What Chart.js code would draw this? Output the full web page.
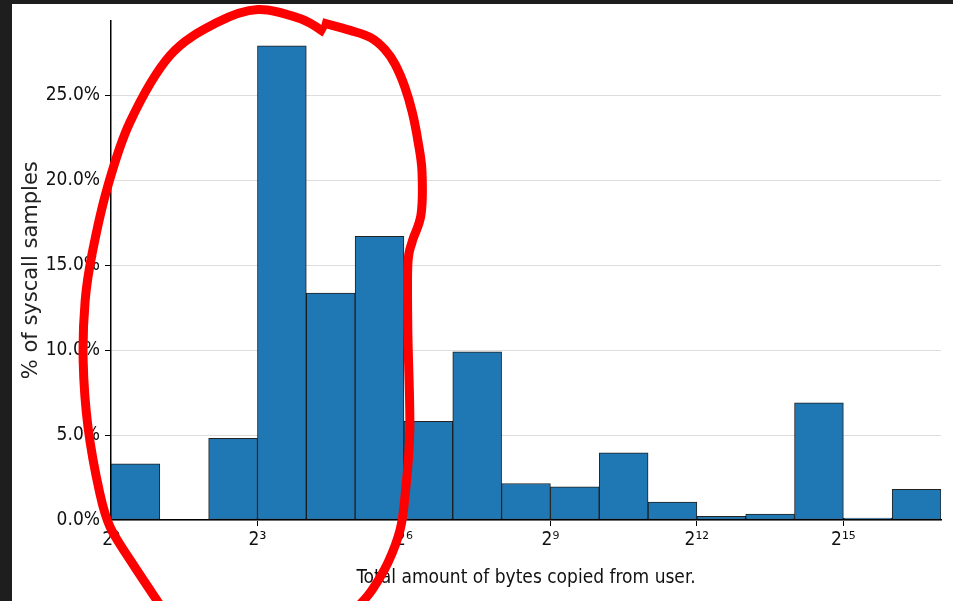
<!DOCTYPE html>
<html lang="en">
<head>
  <meta charset="UTF-8">
  <title>Bytes copied from user</title>
  <script src="https://cdn.jsdelivr.net/npm/chart.js"></script>
  <style>
    html, body { margin: 0; padding: 0; background: #1e1e1e; overflow: hidden; }
    .chart-box { position: absolute; left: 12px; top: 4px; width: 941px; height: 597px; background: #fff; }
  </style>
</head>
<body>

  <div class="chart-box">
    <canvas id="histChart"></canvas>
  </div>

  <script>
    // histogram bins, one power of two wide (log2 of the left edge)
    const binStarts = [0, 1, 2, 3, 4, 5, 6, 7, 8, 9, 10, 11, 12, 13, 14, 15, 16];
    const samplePct = [3.3, 0, 4.8, 27.9, 13.35, 16.7, 5.8, 9.9, 2.15, 1.95, 3.95, 1.05, 0.22, 0.35, 6.9, 0.12, 1.8];

    // tick labels
    const xTickExps = [0, 3, 6, 9, 12, 15];
    const yTickPct = [0, 5, 10, 15, 20, 25];

    // red hand drawn loop, in (log2 bytes, %) units
    const loopLeft = [
      [1.00, -4.98], [0.39, -2.34], [-0.02, -0.41], [-0.23, 1.58], [-0.47, 5.44],
      [-0.57, 9.37], [-0.53, 12.88], [-0.39, 15.63], [-0.08, 19.50], [0.39, 23.42],
      [1.21, 27.34], [2.17, 29.27], [3.01, 30.04], [3.87, 29.51], [4.38, 28.69]
    ];
    const loopRight = [
      [4.32, 29.27], [4.90, 28.81], [5.31, 28.40], [5.61, 27.69], [5.82, 26.81], [6.02, 25.47],
      [6.17, 24.00], [6.29, 22.25], [6.37, 20.49], [6.35, 17.97], [6.17, 16.39], [6.08, 15.05],
      [6.08, 11.12], [6.12, 5.27], [6.02, 1.35], [5.92, -0.59], [5.67, -2.52], [5.35, -4.10], [5.10, -4.98]
    ];

    const SUP = '⁰¹²³⁴⁵⁶⁷⁸⁹';
    function pow2Label(e) {
      return '2' + String(e).split('').map(d => SUP[+d]).join('');
    }

    // smooth stroke through the points (catmull-rom)
    function strokeSmooth(ctx, pts) {
      ctx.beginPath();
      ctx.moveTo(pts[0][0], pts[0][1]);
      for (let i = 0; i < pts.length - 1; i++) {
        const p0 = pts[Math.max(i - 1, 0)], p1 = pts[i], p2 = pts[i + 1], p3 = pts[Math.min(i + 2, pts.length - 1)];
        ctx.bezierCurveTo(
          p1[0] + (p2[0] - p0[0]) / 6, p1[1] + (p2[1] - p0[1]) / 6,
          p2[0] - (p3[0] - p1[0]) / 6, p2[1] - (p3[1] - p1[1]) / 6,
          p2[0], p2[1]
        );
      }
      ctx.stroke();
    }

    const scribble = {
      id: 'scribble',
      afterDraw(chart) {
        const { ctx, scales: { x, y } } = chart;
        ctx.save();
        ctx.strokeStyle = '#ff0000';
        ctx.lineWidth = 9;
        ctx.lineJoin = 'round';
        ctx.lineCap = 'butt';
        [loopLeft, loopRight].forEach(stroke => {
          strokeSmooth(ctx, stroke.map(p => [x.getPixelForValue(p[0]), y.getPixelForValue(p[1])]));
        });
        ctx.restore();
      }
    };

    const tickFont = { family: 'DejaVu Sans Condensed', size: 19 };

    new Chart(document.getElementById('histChart'), {
      type: 'bar',
      data: {
        datasets: [{
          data: binStarts.map((b, i) => ({ x: b + 0.5, y: samplePct[i] })),
          backgroundColor: '#1f77b4',
          borderColor: 'rgba(10,10,10,0.9)',
          borderWidth: 1,
          borderSkipped: false,
          barPercentage: 1,
          categoryPercentage: 1
        }]
      },
      options: {
        responsive: true,
        maintainAspectRatio: false,
        animation: false,
        layout: { padding: { left: 0, right: 12, top: 14, bottom: 0 } },
        plugins: {
          legend: { display: false },
          tooltip: { enabled: false }
        },
        scales: {
          x: {
            type: 'linear',
            min: 0,
            max: 17,
            offset: false,
            afterBuildTicks: s => { s.ticks = xTickExps.map(v => ({ value: v })); },
            afterFit: s => { s.height = 81; },
            grid: { offset: false, drawOnChartArea: false, tickColor: '#000', tickLength: 6 },
            border: { color: '#000', width: 1.5 },
            ticks: {
              font: tickFont,
              color: '#111',
              padding: 3,
              maxRotation: 0,
              callback: v => pow2Label(v)
            },
            title: {
              display: true,
              text: 'Total amount of bytes copied from user.',
              font: tickFont,
              color: '#111',
              padding: { top: 4, bottom: 12 }
            }
          },
          y: {
            min: 0,
            max: 29.4,
            afterBuildTicks: s => { s.ticks = yTickPct.map(v => ({ value: v })); },
            afterFit: s => { s.width = 99; },
            grid: { color: '#dddddd', lineWidth: 1, tickColor: '#000', tickLength: 6 },
            border: { color: '#000', width: 1.5 },
            ticks: {
              font: tickFont,
              color: '#111',
              padding: 5,
              callback: v => v.toFixed(1) + '%'
            },
            title: {
              display: true,
              text: '% of syscall samples',
              font: { family: 'DejaVu Sans', size: 21 },
              color: '#222',
              padding: { top: 7, bottom: 4 }
            }
          }
        }
      },
      plugins: [scribble]
    });
  </script>

</body>
</html>
